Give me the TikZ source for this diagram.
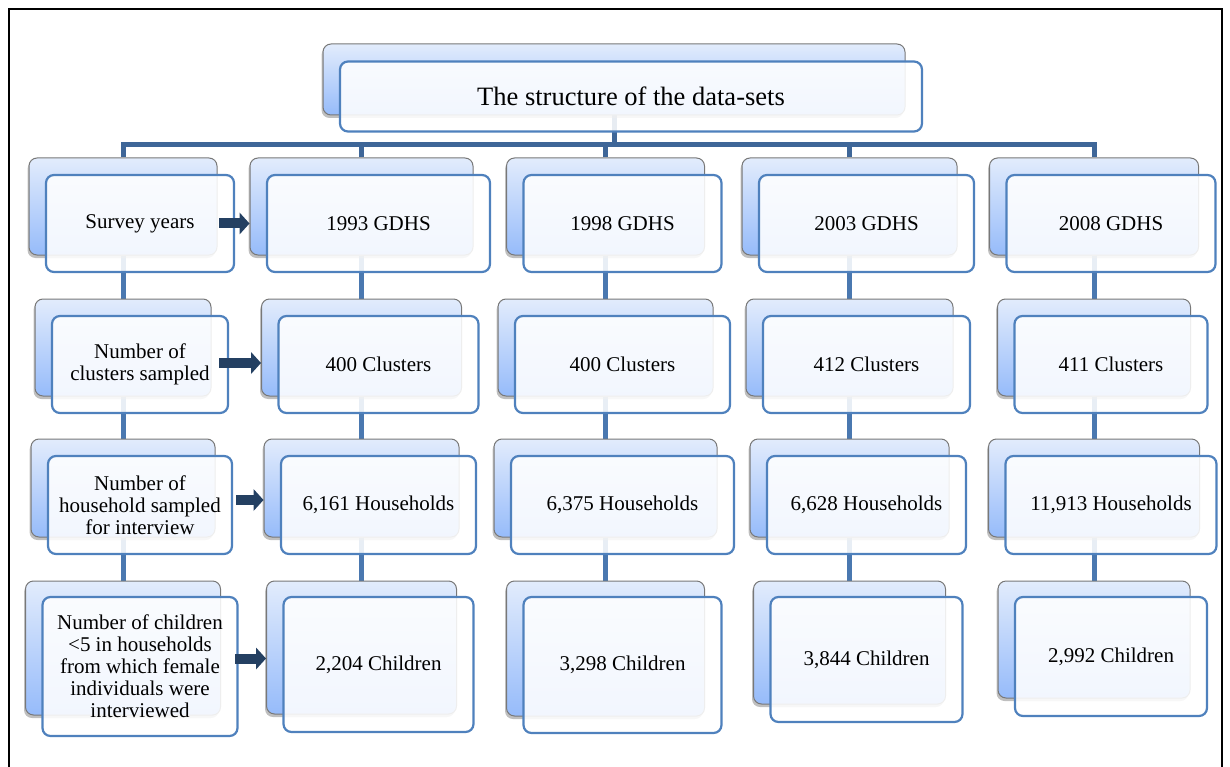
\documentclass[tikz,border=0pt]{standalone}
\usepackage{fontspec}
\setmainfont{Liberation Serif}
\usetikzlibrary{arrows.meta,shadows,backgrounds}
\definecolor{cardtop}{RGB}{226,236,252}
\definecolor{cardbottom}{RGB}{150,187,250}
\definecolor{cardedge}{RGB}{120,120,120}
\definecolor{cardline}{RGB}{79,129,189}
\definecolor{linkblue}{RGB}{74,120,176}
\definecolor{busblue}{RGB}{62,102,152}
\definecolor{arrowblue}{RGB}{36,64,98}

\begin{document}
\begin{tikzpicture}[x=1pt,y=-1pt,
        back/.style={draw=cardedge,line width=1pt,rounded corners=8pt,top color=cardtop,bottom color=cardbottom,inner sep=0pt,
            drop shadow={shadow xshift=-1.5pt,shadow yshift=-3pt,opacity=.5}},
        front/.style={draw=cardline,line width=2.2pt,rounded corners=8pt,fill=white,fill opacity=.88,text opacity=1,inner sep=0pt,
            align=center,font=\fontsize{21}{22}\selectfont},
        box/.style 2 args={minimum width=#1pt,minimum height=#2pt},
        link/.style={draw=linkblue,line width=5pt},
        bus/.style={draw=busblue,line width=5pt,line join=miter},
        arr/.style={draw=arrowblue,line width=10pt,-{Triangle[length=10pt,width=22pt,line width=0pt]}}]
        \useasboundingbox (0,0) rectangle (1230,767);
        \draw[line width=2pt] (9,790) -- (9,9) -- (1222,9) -- (1222,790);
        \node[back,box={582}{71}] (Tb) at (614,79.5) {};
        \node[front,box={582}{70},font=\fontsize{26.5}{28}\selectfont] (T) at (631,96.5) {The structure of the data-sets};
        \node[back,box={188}{97}] (L1b) at (123,206.5) {};
        \node[front,box={188}{97}] (L1) at (140,223.5) {Survey years};
        \node[back,box={223}{97}] (A1b) at (361.5,206.5) {};
        \node[front,box={223}{97}] (A1) at (378.5,223.5) {1993 GDHS};
        \node[back,box={198}{97}] (B1b) at (605.5,206.5) {};
        \node[front,box={198}{97}] (B1) at (622.5,223.5) {1998 GDHS};
        \node[back,box={215}{97}] (C1b) at (849.5,206.5) {};
        \node[front,box={215}{97}] (C1) at (866.5,223.5) {2003 GDHS};
        \node[back,box={209}{97}] (D1b) at (1094,206.5) {};
        \node[front,box={209}{97}] (D1) at (1111,223.5) {2008 GDHS};
        \node[back,box={176}{97}] (L2b) at (123,347.5) {};
        \node[front,box={176}{97}] (L2) at (140,364.5) {Number of\\clusters sampled};
        \node[back,box={200}{97}] (A2b) at (361.5,347.5) {};
        \node[front,box={200}{97}] (A2) at (378.5,364.5) {400 Clusters};
        \node[back,box={215}{97}] (B2b) at (605.5,347.5) {};
        \node[front,box={215}{97}] (B2) at (622.5,364.5) {400 Clusters};
        \node[back,box={207}{97}] (C2b) at (849.5,347.5) {};
        \node[front,box={207}{97}] (C2) at (866.5,364.5) {412 Clusters};
        \node[back,box={193}{97}] (D2b) at (1094,347.5) {};
        \node[front,box={193}{97}] (D2) at (1111,364.5) {411 Clusters};
        \node[back,box={184}{98}] (L3b) at (123,488) {};
        \node[front,box={184}{98}] (L3) at (140,505) {Number of\\household sampled\\for interview};
        \node[back,box={195}{98}] (A3b) at (361.5,488) {};
        \node[front,box={195}{98}] (A3) at (378.5,505) {6,161 Households};
        \node[back,box={223}{98}] (B3b) at (605.5,488) {};
        \node[front,box={223}{98}] (B3) at (622.5,505) {6,375 Households};
        \node[back,box={199}{98}] (C3b) at (849.5,488) {};
        \node[front,box={199}{98}] (C3) at (866.5,505) {6,628 Households};
        \node[back,box={211}{98}] (D3b) at (1094,488) {};
        \node[front,box={211}{98}] (D3) at (1111,505) {11,913 Households};
        \node[back,box={195}{134}] (L4b) at (123,648) {};
        \node[front,box={195}{139}] (L4) at (140,666.5) {Number of children\\<5 in households\\from which female\\individuals were\\interviewed};
        \node[back,box={190}{133}] (A4b) at (361.5,647.5) {};
        \node[front,box={190}{135}] (A4) at (378.5,664.5) {2,204 Children};
        \node[back,box={198}{135}] (B4b) at (605.5,648.5) {};
        \node[front,box={198}{136}] (B4) at (622.5,665) {3,298 Children};
        \node[back,box={192}{123}] (C4b) at (849.5,642.5) {};
        \node[front,box={192}{125}] (C4) at (866.5,659.5) {3,844 Children};
        \node[back,box={192}{117}] (D4b) at (1094,639.5) {};
        \node[front,box={192}{119}] (D4) at (1111,656.5) {2,992 Children};
        \coordinate (hub) at (614,145);
        \begin{scope}[on background layer]
            \draw[bus] (Tb.south) -- (Tb.south |- hub);
            \draw[bus] (L1b.north) -- (L1b.north |- hub) -- (D1b.north |- hub) -- (D1b.north);
            \draw[bus] (A1b.north) -- (A1b.north |- hub);
            \draw[bus] (B1b.north) -- (B1b.north |- hub);
            \draw[bus] (C1b.north) -- (C1b.north |- hub);
            \draw[link] (L1b.south) -- (L2b.north) (L2b.south) -- (L3b.north) (L3b.south) -- (L4b.north);
            \draw[link] (A1b.south) -- (A2b.north) (A2b.south) -- (A3b.north) (A3b.south) -- (A4b.north);
            \draw[link] (B1b.south) -- (B2b.north) (B2b.south) -- (B3b.north) (B3b.south) -- (B4b.north);
            \draw[link] (C1b.south) -- (C2b.north) (C2b.south) -- (C3b.north) (C3b.south) -- (C4b.north);
            \draw[link] (D1b.south) -- (D2b.north) (D2b.south) -- (D3b.north) (D3b.south) -- (D4b.north);
        \end{scope}
        \draw[arr] ([xshift=-16pt]L1.east) -- (L1.east -| A1b.west);
        \draw[arr] ([xshift=-10pt,yshift=1.5pt]L2.east) -- ([yshift=1.5pt]L2.east -| A2b.west);
        \draw[arr] ([xshift=3pt,yshift=5pt]L3.east) -- ([yshift=5pt]L3.east -| A3b.west);
        \draw[arr] ([xshift=-3.5pt,yshift=8pt]L4.east) -- ([yshift=8pt]L4.east -| A4b.west);
    \end{tikzpicture}
\end{document}
